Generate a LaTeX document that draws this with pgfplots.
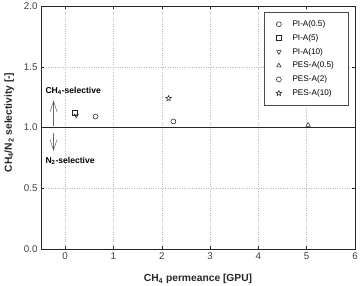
\documentclass[border=0pt]{standalone}
\usepackage{fontspec}
\setmainfont{Liberation Sans}
\usepackage{pgfplots}
\pgfplotsset{compat=1.18}
\usetikzlibrary{arrows.meta}

% five-pointed open star mark
\pgfdeclareplotmark{ostar}{%
  \pgfpathmoveto{\pgfpointpolar{90}{\pgfplotmarksize}}%
  \pgfpathlineto{\pgfpointpolar{126}{0.45\pgfplotmarksize}}%
  \pgfpathlineto{\pgfpointpolar{162}{\pgfplotmarksize}}%
  \pgfpathlineto{\pgfpointpolar{198}{0.45\pgfplotmarksize}}%
  \pgfpathlineto{\pgfpointpolar{234}{\pgfplotmarksize}}%
  \pgfpathlineto{\pgfpointpolar{270}{0.45\pgfplotmarksize}}%
  \pgfpathlineto{\pgfpointpolar{306}{\pgfplotmarksize}}%
  \pgfpathlineto{\pgfpointpolar{342}{0.45\pgfplotmarksize}}%
  \pgfpathlineto{\pgfpointpolar{18}{\pgfplotmarksize}}%
  \pgfpathlineto{\pgfpointpolar{54}{0.45\pgfplotmarksize}}%
  \pgfpathclose
  \pgfusepathqstroke}

\begin{document}
\begin{tikzpicture}
\begin{axis}[
  name=ax,
  scale only axis,
  width=314bp, height=243bp,
  xmin=-0.5, xmax=6,
  ymin=0, ymax=2,
  xtick={0,1,2,3,4,5,6},
  ytick={0,0.5,1,1.5,2},
  yticklabel style={/pgf/number format/.cd,fixed,fixed zerofill,precision=1},
  /pgf/number format/assume math mode=true,
  tick align=inside,
  major tick length=3bp,
  axis line style={black!85, line width=0.6pt},
  tick style={black!85, line width=0.5pt},
  grid=major,
  major grid style={gray!55, dotted, line width=0.5pt},
  ticklabel style={font=\fontsize{9.8}{11}\selectfont, text=black!75},
  xlabel={\textbf{CH$_\mathbf{4}$ permeance [GPU]}},
  ylabel={\textbf{CH$_\mathbf{4}$/N$_\mathbf{2}$ selectivity [-]}},
  label style={font=\fontsize{10.3}{12}\selectfont, text=black!85},
  xlabel style={yshift=-8bp},
  ylabel style={yshift=3bp, xshift=5bp},
  legend cell align=left,
  legend image code/.code={%
    \draw[#1] plot coordinates {(0bp,0bp)};},
  legend style={
    at={(0.978,0.974)}, anchor=north east,
    draw=black!70, line width=0.5pt,
    font=\fontsize{8.2}{9}\selectfont,
    row sep=2.4bp, inner xsep=12bp, inner ysep=6bp,
    /tikz/every odd column/.append style={column sep=9bp},
  },
  every axis plot/.append style={only marks, black!85, mark size=2.5bp, line width=0.55pt},
]
\addplot[mark=o] coordinates {(0.63,1.09)};
\addlegendentry{PI-A(0.5)}
\addplot[mark=square] coordinates {(0.19,1.12)};
\addlegendentry{PI-A(5)}
\addplot[mark=triangle, mark options={rotate=180}] coordinates {(0.23,1.10)};
\addlegendentry{PI-A(10)}
\addplot[mark=triangle] coordinates {(5.03,1.02)};
\addlegendentry{PES-A(0.5)}
\addplot[mark=o] coordinates {(2.24,1.05)};
\addlegendentry{PES-A(2)}
\addplot[mark=ostar, mark size=2.8bp] coordinates {(2.14,1.24)};
\addlegendentry{PES-A(10)}

% neutral selectivity line
\draw[black!85, line width=0.6pt] (axis cs:-0.5,1) -- (axis cs:6,1);

% direction arrows and labels
\draw[-{Straight Barb[length=11bp,width=7bp]}, black!60, line width=0.5pt]
  (axis cs:-0.24,1.013) -- (axis cs:-0.24,1.225);
\draw[-{Straight Barb[length=11bp,width=7bp]}, black!60, line width=0.5pt]
  (axis cs:-0.24,0.953) -- (axis cs:-0.24,0.805);
\node[anchor=west, font=\fontsize{8.6}{10}\selectfont\bfseries, inner sep=0pt]
  at (axis cs:-0.41,1.30) {CH$_\mathbf{4}$-selective};
\node[anchor=west, font=\fontsize{8.6}{10}\selectfont\bfseries, inner sep=0pt]
  at (axis cs:-0.41,0.722) {N$_\mathbf{2}$-selective};
\end{axis}
\pgfresetboundingbox
\path[use as bounding box] ([shift={(-41bp,-36bp)}]ax.south west) rectangle ([shift={(6bp,6bp)}]ax.north east);
\end{tikzpicture}
\end{document}
